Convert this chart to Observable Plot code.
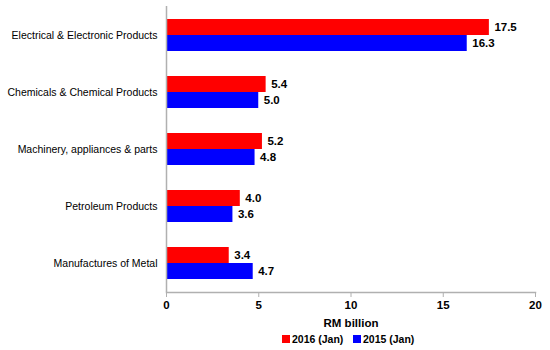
<!DOCTYPE html>
<html>
<head>
<meta charset="utf-8">
<script src="https://cdn.jsdelivr.net/npm/d3@7"></script>
<script src="https://cdn.jsdelivr.net/npm/@observablehq/plot@0.6"></script>
<style>
  body { margin: 0; background: #fff; font-family: "Liberation Sans", Arial, sans-serif; }
  #legend { position: relative; height: 20px; font-size: 10.5px; font-weight: bold; }
  #legend .item { position: absolute; top: 3px; display: flex; align-items: center; }
  #legend .sw { width: 8px; height: 8px; margin-right: 2px; }
</style>
</head>
<body>
<div id="chart"></div>
<div id="legend"></div>
<script>
const categories = [
  "Electrical & Electronic Products",
  "Chemicals & Chemical Products",
  "Machinery, appliances & parts",
  "Petroleum Products",
  "Manufactures of Metal"
];
const seriesNames = ["2016 (Jan)", "2015 (Jan)"];
const values2016 = [17.5, 5.4, 5.2, 4.0, 3.4];
const values2015 = [16.3, 5.0, 4.8, 3.6, 4.7];
const xTicks = [0, 5, 10, 15, 20];
const colors = ["#ff0000", "#0000ff"];

const d16 = categories.map((c, i) => ({category: c, value: values2016[i]}));
const d15 = categories.map((c, i) => ({category: c, value: values2015[i]}));

const chart = Plot.plot({
  width: 550,
  height: 330,
  marginTop: 6,
  marginBottom: 38,
  marginLeft: 166,
  marginRight: 15,
  style: {fontFamily: "'Liberation Sans', Arial, sans-serif", fontSize: "11px", color: "#000", background: "#fff"},
  x: {domain: [0, 20]},
  y: {domain: categories, paddingInner: 0.44, paddingOuter: 0.22},
  marks: [
    Plot.barX(d16, {x: "value", y: "category", fill: colors[0], insetBottom: 16}),
    Plot.barX(d15, {x: "value", y: "category", fill: colors[1], insetTop: 16}),
    Plot.text(d16, {x: "value", y: "category", text: d => d.value.toFixed(1), dx: 5, dy: -8, textAnchor: "start", fontWeight: "bold", fontSize: 11.5}),
    Plot.text(d15, {x: "value", y: "category", text: d => d.value.toFixed(1), dx: 5, dy: 8, textAnchor: "start", fontWeight: "bold", fontSize: 11.5}),
    Plot.ruleX([0], {stroke: "#b0b0b0", strokeWidth: 1.5}),
    Plot.frame({anchor: "bottom", stroke: "#b0b0b0", strokeWidth: 1.5}),
    Plot.axisY({tickSize: 0, tickPadding: 9, fontSize: 10.5, label: null}),
    Plot.axisX({ticks: xTicks, tickSize: 5, stroke: "#b0b0b0", fill: "#000", fontWeight: "bold", fontSize: 11.5, tickPadding: 3,
      label: "RM billion", labelAnchor: "center", labelArrow: "none", labelOffset: 34})
  ]
});
document.getElementById("chart").appendChild(chart);

const legend = document.getElementById("legend");
const positions = [282, 353];
seriesNames.forEach((name, i) => {
  const item = document.createElement("div");
  item.className = "item";
  item.style.left = positions[i] + "px";
  const sw = document.createElement("div");
  sw.className = "sw";
  sw.style.background = colors[i];
  item.appendChild(sw);
  const t = document.createElement("span");
  t.textContent = name;
  item.appendChild(t);
  legend.appendChild(item);
});
</script>
</body>
</html>
